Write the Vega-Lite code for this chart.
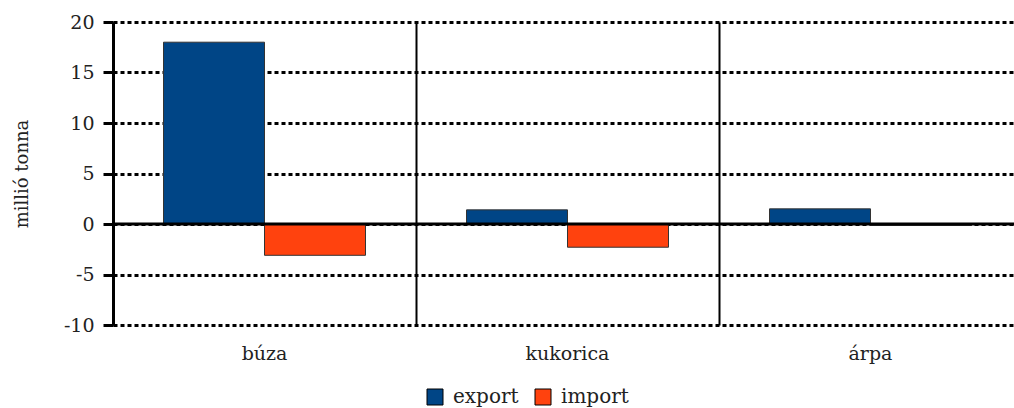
{
  "$schema": "https://vega.github.io/schema/vega-lite/v6.json",
  "width": 901,
  "height": 303,
  "autosize": {"type": "none"},
  "padding": {"left": 113, "top": 22, "right": 0, "bottom": 83},
  "background": "white",
  "config": {
    "view": {"stroke": null},
    "font": "DejaVu Serif",
    "axis": {"labelFont": "DejaVu Serif", "titleFont": "DejaVu Serif", "labelColor": "#222", "titleColor": "#222"},
    "legend": {"labelFont": "DejaVu Serif"}
  },
  "data": {
    "values": [
      {"crop": "búza", "type": "export", "value": 18.0},
      {"crop": "búza", "type": "import", "value": -3.1},
      {"crop": "kukorica", "type": "export", "value": 1.4},
      {"crop": "kukorica", "type": "import", "value": -2.3},
      {"crop": "árpa", "type": "export", "value": 1.5},
      {"crop": "árpa", "type": "import", "value": -0.15}
    ]
  },
  "layer": [
    {
      "mark": {"type": "bar", "stroke": "#333", "strokeWidth": 1},
      "encoding": {
        "x": {
          "field": "crop", "type": "nominal", "sort": ["búza", "kukorica", "árpa"],
          "scale": {"paddingInner": 0, "paddingOuter": 0, "range": [0, 909]},
          "axis": {
            "title": null, "domain": false, "ticks": false, "labelAngle": 0,
            "labelFontSize": 19, "labelPadding": 19,
            "grid": true, "bandPosition": 0, "gridColor": "black", "gridWidth": 2, "gridOpacity": 1
          }
        },
        "xOffset": {"field": "type", "type": "nominal", "scale": {"paddingInner": 0, "paddingOuter": 0.5}},
        "y": {
          "field": "value", "type": "quantitative",
          "scale": {"domain": [-10, 20], "nice": false, "zero": false},
          "axis": {
            "title": "millió tonna", "titleFontSize": 18, "titleFontWeight": "normal", "titlePadding": 32,
            "values": [-10, -5, 0, 5, 10, 15, 20],
            "labelExpr": "'' + datum.value",
            "labelFontSize": 19, "labelPadding": 9,
            "domainColor": "black", "domainWidth": 3,
            "tickColor": "black", "tickWidth": 3, "tickSize": 10,
            "grid": true, "gridColor": "black", "gridWidth": 3, "gridDash": [4, 3], "gridOpacity": 1
          }
        },
        "color": {
          "field": "type", "type": "nominal",
          "scale": {"domain": ["export", "import"], "range": ["#004586", "#ff420e"]},
          "legend": {
            "title": null, "orient": "none", "direction": "horizontal",
            "legendX": 312, "legendY": 365,
            "symbolType": "square", "symbolSize": 256, "symbolStrokeColor": "black", "symbolStrokeWidth": 1,
            "labelFontSize": 20, "labelColor": "#222", "labelOffset": 8, "columnPadding": 14
          }
        }
      }
    },
    {
      "data": {"values": [{"y": 0}]},
      "mark": {"type": "rule", "color": "black", "strokeWidth": 3},
      "encoding": {"y": {"field": "y", "type": "quantitative"}}
    }
  ]
}
